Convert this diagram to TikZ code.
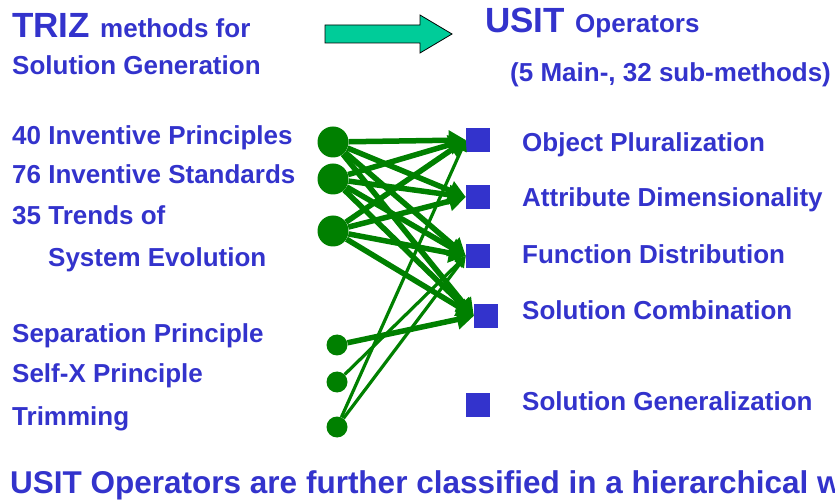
\documentclass[tikz,border=0pt]{standalone}
\usepackage{fontspec}
\setmainfont{Liberation Sans}
\usetikzlibrary{arrows.meta}
\definecolor{txtblue}{HTML}{3333CC}
\definecolor{lgreen}{HTML}{008000}
\definecolor{arrowfill}{HTML}{00CC99}
\begin{document}
\begin{tikzpicture}[x=1pt,y=-1pt,
  txt/.style={anchor=base west, inner sep=0pt, text=txtblue, font=\bfseries\fontsize{26}{30}\selectfont},
  bigtxt/.style={txt, font=\bfseries\fontsize{35}{40}\selectfont},
  bigdot/.style={circle, fill=lgreen, inner sep=0pt, minimum size=31pt},
  smalldot/.style={circle, fill=lgreen, inner sep=0pt, minimum size=21pt},
  sq/.style={rectangle, fill=txtblue, inner sep=0pt, minimum size=24pt},
  fatarrow/.style={draw=lgreen, line width=5.5pt, -{Triangle[length=17pt,width=19pt]}},
  slimarrow/.style={draw=lgreen, line width=3.2pt, -{Triangle[length=11pt,width=11pt]}}]
\useasboundingbox (0,0) rectangle (835,502);

% header
\node[bigtxt] (triz) at (12,38) {TRIZ};
\node[txt] (methods) at (100,38) {methods for};
\node[txt] (solgen) at (12,75) {Solution Generation};
\node[bigtxt] (usit) at (485,33) {USIT};
\node[txt] (ops) at (575,33) {Operators};
\node[txt] (mainsub) at (510,82) {(5 Main-, 32 sub-methods)};

% block arrow
\draw[fill=arrowfill, draw=black, line width=0.8pt]
  (325,25) -- (420,25) -- (420,15) -- (452,34) -- (420,53) -- (420,43) -- (325,43) -- cycle;

% left texts
\node[txt] (l1) at (12,145) {40 Inventive Principles};
\node[txt] (l2) at (12,184) {76 Inventive Standards};
\node[txt] (l3) at (12,225) {35 Trends of};
\node[txt] (l4) at (48,267) {System Evolution};
\node[txt] (l5) at (12,343) {Separation Principle};
\node[txt] (l6) at (12,382) {Self-X Principle};
\node[txt] (l7) at (12,425) {Trimming};

% right texts
\node[txt] (r1) at (522,152) {Object Pluralization};
\node[txt] (r2) at (522,207) {Attribute Dimensionality};
\node[txt] (r3) at (522,264) {Function Distribution};
\node[txt] (r4) at (522,320) {Solution Combination};
\node[txt] (r5) at (522,410) {Solution Generalization};

% dots
\node[bigdot] (c1) at (333,142) {};
\node[bigdot] (c2) at (333,179) {};
\node[bigdot] (c3) at (333,231) {};
\node[smalldot] (s1) at (337,345) {};
\node[smalldot] (s2) at (337,382) {};
\node[smalldot] (s3) at (337,427) {};

% squares
\node[sq] (q1) at (478,140) {};
\node[sq] (q2) at (478,197) {};
\node[sq] (q3) at (478,256) {};
\node[sq] (q4) at (486,316) {};
\node[sq] (q5) at (478,405) {};

% connectors
\foreach \c in {c1,c2,c3}{
  \foreach \q in {q1,q2,q3,q4}{
    \draw[fatarrow] (\c) -- (\q.west);
  }
}
\draw[fatarrow] (s1) -- (q4.west);
\draw[slimarrow] (s2) -- (q3.west);
\draw[slimarrow] (s3) -- (q1.west);
\draw[slimarrow] (s3) -- (q3.west);

% bottom line
\node[anchor=base west, inner sep=0pt, text=txtblue, font=\bfseries\fontsize{31.5}{36}\selectfont] (bottom) at (10,493) {USIT Operators are further classified in a hierarchical w};
\end{tikzpicture}
\end{document}
